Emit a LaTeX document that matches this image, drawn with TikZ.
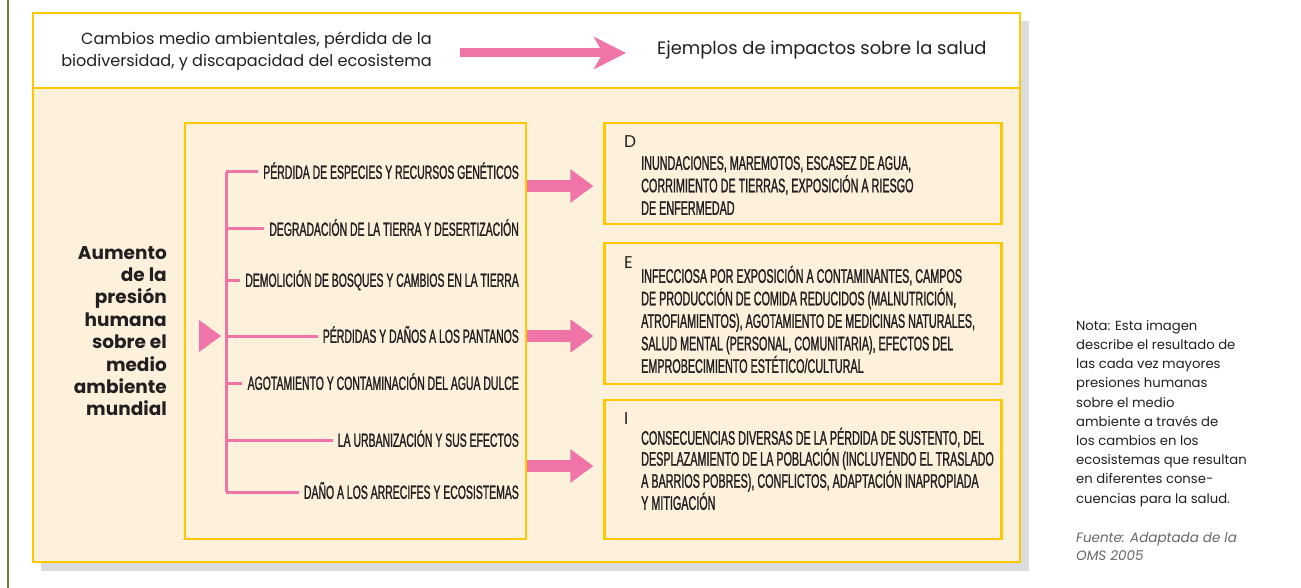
\documentclass[tikz,border=0pt]{standalone}
\usepackage{fontspec}
\setmainfont{Poppins}
\newfontfamily\condfont[FakeStretch=0.55,FakeBold=1.2]{Liberation Sans}
\usetikzlibrary{arrows.meta,positioning}

\definecolor{rosa}{RGB}{240,116,168}
\definecolor{ambar}{RGB}{255,200,0}
\definecolor{crema}{RGB}{254,241,220}
\definecolor{oliva}{RGB}{118,122,58}
\definecolor{sombra}{RGB}{219,220,222}
\definecolor{tinta}{RGB}{35,31,32}

\begin{document}
\begin{tikzpicture}[x=1pt, y=-1pt,
    caja/.style={draw=ambar, line width=2.2pt, inner sep=0pt},
    factor/.style={font=\condfont\fontsize{19}{22}\selectfont, text=tinta, anchor=east,
        inner sep=0pt, text height=13.6pt, text depth=0pt},
    impacto/.style={font=\condfont\fontsize{19.6}{22.5}\selectfont, text=tinta, align=left,
        anchor=base west, inner sep=0pt},
    letra/.style={font=\fontsize{17}{20}\selectfont, text=tinta, anchor=base west, inner sep=0pt},
    rama/.style={draw=rosa, line width=3pt},
    flecha/.style={rosa, line width=12pt, shorten >=10pt, -{Triangle[length=23pt,width=32pt]}}]
    \useasboundingbox (0,0) rectangle (1301,588);

    \draw[oliva, line width=2.5pt] (8,0) -- (8,588);

    \fill[sombra] (41,21) rectangle (1029,571);
    \node[caja, fill=white, minimum width=987pt, minimum height=75pt] (cabecera) at (526.5,50.5) {};
    \node[caja, fill=crema, minimum width=987pt, minimum height=474pt] (fondo) at (526.5,325) {};

    \node[font=\fontsize{16.1}{22}\selectfont, text=tinta, align=right, anchor=east, inner sep=0pt] (cambios) at (432,51)
        {Cambios medio ambientales, pérdida de la\\biodiversidad, y discapacidad del ecosistema};
    \node[font=\fontsize{17.9}{22}\selectfont, text=tinta, anchor=west, inner sep=0pt] (ejemplos) at (657,50)
        {Ejemplos de impactos sobre la salud};
    \draw[rosa, line width=9pt, shorten <=28pt, shorten >=31pt, -{Stealth[length=32pt,width=32pt,inset=9pt]}]
        ([yshift=-2pt]cambios.east) -- ([yshift=-2pt]cambios.east -| ejemplos.west);

    \node[font=\bfseries\fontsize{18.5}{22.4}\selectfont, text=tinta, align=right, anchor=east, inner sep=0pt] (presion) at (167,331)
        {Aumento\\de la\\presión\\humana\\sobre el\\medio\\ambiente\\mundial};
    \fill[rosa] (199,320) -- (221,336) -- (199,352) -- cycle;

    \node[caja, minimum width=341pt, minimum height=416pt] (medio) at (355.5,331) {};

    \node[factor] (f1) at (519,172) {PÉRDIDA DE ESPECIES Y RECURSOS GENÉTICOS};
    \node[factor] (f2) at (519,229) {DEGRADACIÓN DE LA TIERRA Y DESERTIZACIÓN};
    \node[factor] (f3) at (519,280) {DEMOLICIÓN DE BOSQUES Y CAMBIOS EN LA TIERRA};
    \node[factor] (f4) at (519,336) {PÉRDIDAS Y DAÑOS A LOS PANTANOS};
    \node[factor] (f5) at (519,383) {AGOTAMIENTO Y CONTAMINACIÓN DEL AGUA DULCE};
    \node[factor] (f6) at (519,440) {LA URBANIZACIÓN Y SUS EFECTOS};
    \node[factor] (f7) at (519,492) {DAÑO A LOS ARRECIFES Y ECOSISTEMAS};

    \coordinate (barra) at (226,0);
    \draw[rama] (barra |- f1.west) -- (barra |- f7.west);
    \foreach \f in {f1,f2,f3,f4,f5,f6,f7}
        \draw[rama] (barra |- \f.west) -- ([xshift=-5pt]\f.west);

    \node[caja, fill=crema, minimum width=397pt, minimum height=101pt] (cajaD) at (803,173.5) {};
    \node[caja, fill=crema, minimum width=397pt, minimum height=141pt] (cajaE) at (803,313.5) {};
    \node[caja, fill=crema, minimum width=397pt, minimum height=139pt] (cajaI) at (803,469.5) {};

    % el ancla base cae en la ultima linea
    \node[letra] (letraD) at (624,148) {D};
    \node[impacto] (textoD) at (641,214.8)
        {INUNDACIONES, MAREMOTOS, ESCASEZ DE AGUA,\\CORRIMIENTO DE TIERRAS, EXPOSICIÓN A RIESGO\\DE ENFERMEDAD};
    \node[letra] (letraE) at (624,268) {E};
    \node[impacto] (textoE) at (641,372.8)
        {INFECCIOSA POR EXPOSICIÓN A CONTAMINANTES, CAMPOS\\DE PRODUCCIÓN DE COMIDA REDUCIDOS (MALNUTRICIÓN,\\ATROFIAMIENTOS), AGOTAMIENTO DE MEDICINAS NATURALES,\\SALUD MENTAL (PERSONAL, COMUNITARIA), EFECTOS DEL\\EMPROBECIMIENTO ESTÉTICO/CULTURAL};
    \node[letra] (letraI) at (624,424) {I};
    \node[impacto, font=\condfont\fontsize{19.6}{21}\selectfont] (textoI) at (641,509.8)
        {CONSECUENCIAS DIVERSAS DE LA PÉRDIDA DE SUSTENTO, DEL\\DESPLAZAMIENTO DE LA POBLACIÓN (INCLUYENDO EL TRASLADO\\A BARRIOS POBRES), CONFLICTOS, ADAPTACIÓN INAPROPIADA\\Y MITIGACIÓN};

    \coordinate (nivelD) at (0,186);
    \coordinate (nivelE) at (0,336);
    \coordinate (nivelI) at (0,466);
    \draw[flecha] (medio.east |- nivelD) -- (cajaD.west |- nivelD);
    \draw[flecha] (medio.east |- nivelE) -- (cajaE.west |- nivelE);
    \draw[flecha] (medio.east |- nivelI) -- (cajaI.west |- nivelI);

    \node[font=\fontsize{13.2}{19.2}\selectfont, text=tinta, align=left, anchor=north west, inner sep=0pt] (nota) at (1076,320)
        {Nota: Esta imagen\\describe el resultado de\\las cada vez mayores\\presiones humanas\\sobre el medio\\ambiente a través de\\los cambios en los\\ecosistemas que resultan\\en diferentes conse-\\cuencias para la salud.};
    \node[font=\itshape\fontsize{13.5}{18}\selectfont, text=black!60, align=left, anchor=north west, inner sep=0pt] (fuente)
        at ([yshift=-26pt]nota.south west) {Fuente: Adaptada de la\\OMS 2005};
\end{tikzpicture}
\end{document}
